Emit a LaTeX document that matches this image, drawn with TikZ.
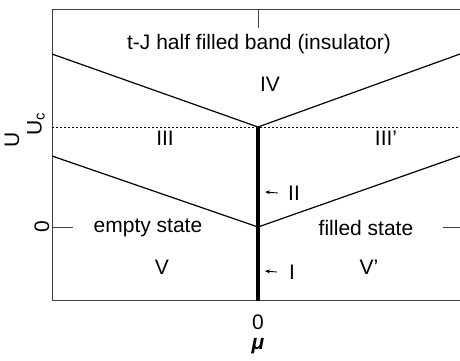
\documentclass[tikz,border=0pt]{standalone}
\usepackage{fontspec}
\setmainfont{Liberation Sans}
\usetikzlibrary{positioning,calc,arrows.meta}

\begin{document}
\begin{tikzpicture}[x=1pt, y=-1pt,
  every node/.style={font=\fontsize{21}{25}\selectfont, inner sep=1pt},
  frame/.style={draw=black!75, line width=0.9pt},
  phase/.style={draw=black, line width=1.2pt},
  crit/.style={draw=black, line width=0.9pt, dash pattern=on 2pt off 2pt},
  axis0/.style={draw=black, line width=4.5pt},
  arr/.style={-{Stealth[length=5pt,width=4pt]}, line width=0.9pt}]
\useasboundingbox (0,0) rectangle (460,360);
% Frame corners and tick ends
\coordinate (tl) at (52,9);
\coordinate (bl) at (52,300);
\coordinate (tr) at (460,9);
\coordinate (br) at (460,300);
\coordinate (topmid) at (258,9);
\coordinate (toptick) at (258,28);
\coordinate (zl) at (52,227);
\coordinate (zlt) at (73,227);
\coordinate (zr) at (460,227);
\coordinate (zrt) at (443,227);
% Phase boundaries
\coordinate (uc) at (258,127);
\coordinate (origin) at (258,227);
\coordinate (axisend) at (258,301);
\coordinate (ucl) at (52,127);
\coordinate (ucr) at (460,127);
\coordinate (upl) at (52,54);
\coordinate (upr) at (460,54);
\coordinate (lol) at (52,156);
\coordinate (lor) at (460,156);

\draw[frame] (tr) -- (tl) -- (bl) -- (br);
\draw[frame] (topmid) -- (toptick);
\draw[frame] (zl) -- (zlt);
\draw[frame] (zr) -- (zrt);

\draw[phase] (upl) -- (uc) -- (upr);
\draw[phase] (lol) -- (origin) -- (lor);
\draw[crit] (ucl) -- (ucr);
\draw[axis0] (uc) -- (axisend);

% Region labels
\node (tj) at (259,44) {t-J half filled band (insulator)};
\node (IV) at (270,84) {IV};
\node (III) at (165,138) {III};
\node (IIIp) at (386,138) {III'};
\node (empty) at (148,228) {empty state};
\node (filled) at (366,228) {filled state};
\node (V) at (162,267) {V};
\node (Vp) at (369,267) {V'};

% Lines I and II
\node (II) at (294,193) {II};
\node (I) at (292,272) {I};
\coordinate (tipII) at (265,192);
\coordinate (tipI) at (265,271);
\draw[arr] (II.west) ++(-9pt,0) -- (tipII);
\draw[arr] (I.west) ++(-11pt,0) -- (tipI);

% Axis labels
\node[rotate=90] (U) at (12,140) {U};
\node[rotate=90] (Uc) at (36,124) {U$_\mathrm{c}$};
\node[rotate=90] (zeroU) at (42,227) {0};
\node (zeromu) at (258,322) {0};
\node (mu) at (258,346) {\bfseries\itshape μ};
\end{tikzpicture}
\end{document}
